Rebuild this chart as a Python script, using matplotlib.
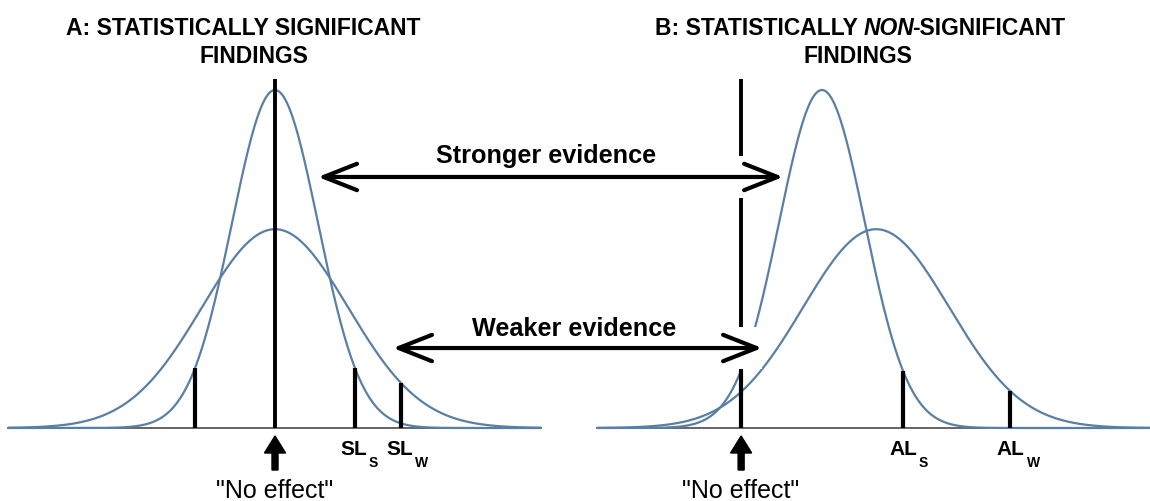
import numpy as np
import matplotlib
matplotlib.use("Agg")
import matplotlib.pyplot as plt
from matplotlib.patches import FancyArrowPatch, FancyArrow, Rectangle

plt.rcParams['font.family'] = ['Liberation Sans', 'DejaVu Sans']

# ---------------- data ----------------
# x: effect size in SD units of the strong study (0 = "no effect"), y: probability density
panel_offset = [0.0, 10.84]                 # where "no effect" sits for panels A and B
panel_extent = [(-6.21, 6.19), (-3.35, 9.51)]

means_A = [0.0, 0.0]          # strong study, weak study
sds_A = [1.0, 1.7]
means_B = [1.88, 3.14]
sds_B = [1.0, 1.7]

limits_A = [-1.86, 1.86, 2.93]
limit_curve_A = [0, 0, 1]     # 0 = strong curve, 1 = weak curve
limits_B = [0.0, 3.77, 6.26]
limit_curve_B = [0, 0, 1]

label_main_A = ['SL', 'SL']
label_sub_A = ['S', 'W']
label_x_A = [1.51, 2.58]
label_main_B = ['AL', 'AL']
label_sub_B = ['S', 'W']
label_x_B = [3.44, 5.95]

zero_line_height = 0.412

arrow_texts = ['Stronger evidence', 'Weaker evidence']
arrow_y = [0.2963, 0.0944]
arrow_from_A = [1.0, 2.744]
arrow_to_B = [0.977, 0.488]
arrow_text_x = [6.302, 6.953]
arrow_text_y = [0.3128, 0.1086]

title_A = ['A: STATISTICALLY SIGNIFICANT', 'FINDINGS']
title_B = ['B: STATISTICALLY', 'NON', '-SIGNIFICANT', 'FINDINGS']

CURVE = '#5a7fa5'


def pdf(x, m, s):
    return np.exp(-0.5 * ((x - m) / s) ** 2) / (s * np.sqrt(2 * np.pi))


fig = plt.figure(figsize=(11.5, 5.01), dpi=100)
ax = fig.add_axes([0, 0, 1, 1])
ax.set_xlim(-275 / 43, 875 / 43)
ax.set_ylim(-73 / 847.2, 428 / 847.2)
ax.axis('off')

panels = [
    (means_A, sds_A, limits_A, limit_curve_A, label_main_A, label_sub_A, label_x_A),
    (means_B, sds_B, limits_B, limit_curve_B, label_main_B, label_sub_B, label_x_B),
]

for p, (means, sds, lims, lcur, lmain, lsub, lx) in enumerate(panels):
    off = panel_offset[p]
    x0, x1 = panel_extent[p]
    # baseline
    ax.plot([off + x0, off + x1], [0, 0], color='#4a4a4a', lw=1.2, zorder=1)
    xs = np.linspace(x0, x1, 800)
    for m, s in zip(means, sds):
        ax.plot(off + xs, pdf(xs, m, s), color=CURVE, lw=1.6, zorder=2,
                solid_capstyle='butt')
    # zero ("no effect") line
    ax.plot([off, off], [0, zero_line_height], color='black', lw=2.8, zorder=3,
            solid_capstyle='butt')
    # limit ticks
    for lim, c in zip(lims, lcur):
        h = pdf(lim, means[c], sds[c])
        ax.plot([off + lim, off + lim], [0, h], color='black', lw=3.0, zorder=3,
                solid_capstyle='butt')
    # limit labels with subscripts
    for main, sub, x in zip(lmain, lsub, lx):
        t = ax.text(off + x, -0.0319, main, fontsize=15, fontweight='bold',
                    ha='left', va='baseline', zorder=6)
        ax.annotate(sub, xy=(1, 0), xycoords=t, xytext=(2, -10.5),
                    textcoords='offset pixels', fontsize=10, fontweight='bold',
                    ha='left', va='bottom', zorder=6)
    # "No effect" block arrow and text
    ax.add_patch(FancyArrow(off, -0.0496, 0, 0.0402, width=0.14, head_width=0.49,
                            head_length=0.0201, length_includes_head=True,
                            color='black', zorder=6))
    ax.text(off, -0.0826, '"No effect"', fontsize=18, ha='center', va='baseline',
            zorder=6)

# evidence arrows spanning both panels
for txt, y, xa, xb, tx, ty in zip(arrow_texts, arrow_y, arrow_from_A, arrow_to_B,
                                  arrow_text_x, arrow_text_y):
    xl = panel_offset[0] + xa
    xr = panel_offset[1] + xb
    ax.add_patch(Rectangle((xl, y - 0.0248), xr - xl, 0.0496, facecolor='white',
                           edgecolor='none', zorder=4))
    arr = FancyArrowPatch((xl, y), (xr, y),
                          arrowstyle='<->,head_length=24,head_width=9.5',
                          mutation_scale=1, shrinkA=0, shrinkB=0,
                          color='black', lw=3.0, zorder=5)
    ax.add_patch(arr)
    ax.text(tx, ty, txt, fontsize=18.2, fontweight='bold', ha='center',
            va='baseline', zorder=6)

# titles
ax.text(-0.744, 0.4639, title_A[0], fontsize=16.5, fontweight='bold',
        ha='center', va='baseline')
ax.text(-0.488, 0.4308, title_A[1], fontsize=16.5, fontweight='bold',
        ha='center', va='baseline')

t1 = ax.text(8.837, 0.4639, title_B[0], fontsize=16.5, fontweight='bold',
             ha='left', va='baseline')
t2 = ax.annotate(title_B[1], xy=(1, 0), xycoords=t1, xytext=(6, 0),
                 textcoords='offset pixels', fontsize=16.5, fontweight='bold',
                 fontstyle='italic', ha='left', va='bottom')
ax.annotate(title_B[2], xy=(1, 0), xycoords=t2, xytext=(-2, 0),
            textcoords='offset pixels', fontsize=16.5, fontweight='bold',
            ha='left', va='bottom')
ax.text(13.56, 0.4308, title_B[3], fontsize=16.5, fontweight='bold',
        ha='center', va='baseline')

fig.savefig('out.png', dpi=100)
